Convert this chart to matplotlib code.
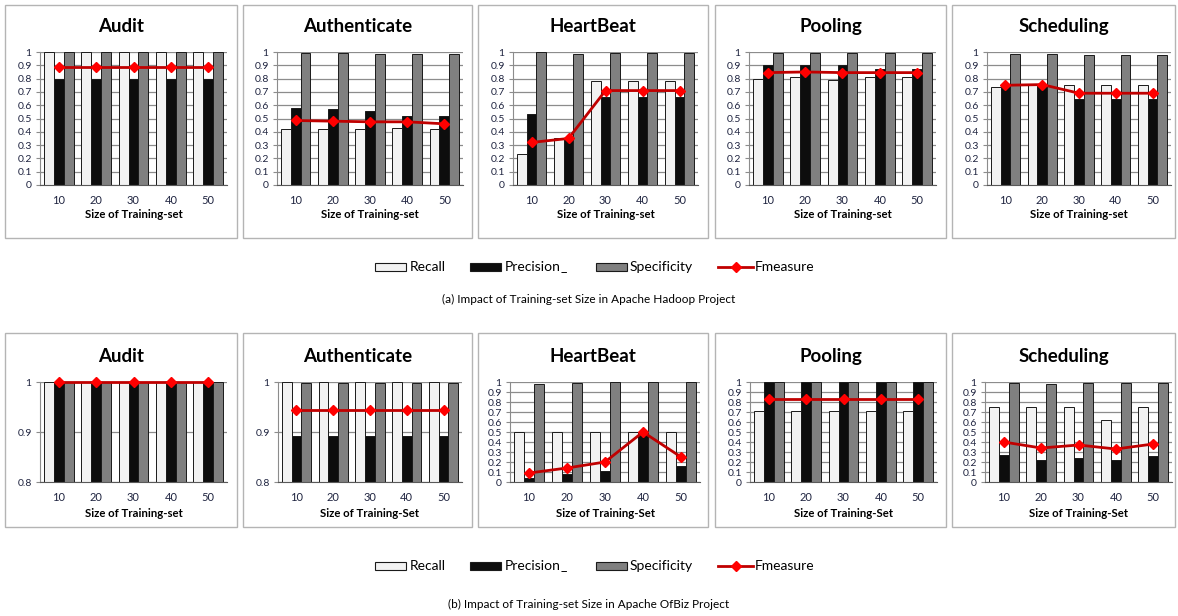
import matplotlib
matplotlib.use("Agg")
import matplotlib.pyplot as plt
from matplotlib.patches import Rectangle
from matplotlib.lines import Line2D
import numpy as np

plt.rcParams['font.family'] = ['Lato', 'DejaVu Sans']

sizes = [10, 20, 30, 40, 50]
modules = ['Audit', 'Authenticate', 'HeartBeat', 'Pooling', 'Scheduling']

# Apache Hadoop
hadoop_recall = [
    [1.0, 1.0, 1.0, 1.0, 1.0],
    [0.42, 0.42, 0.42, 0.43, 0.42],
    [0.23, 0.35, 0.78, 0.78, 0.78],
    [0.80, 0.81, 0.79, 0.81, 0.81],
    [0.74, 0.76, 0.75, 0.75, 0.75],
]
hadoop_precision = [
    [0.80, 0.80, 0.80, 0.80, 0.80],
    [0.58, 0.57, 0.555, 0.52, 0.52],
    [0.535, 0.35, 0.66, 0.66, 0.66],
    [0.90, 0.90, 0.905, 0.87, 0.875],
    [0.75, 0.75, 0.645, 0.645, 0.645],
]
hadoop_specificity = [
    [1.0, 1.0, 1.0, 1.0, 1.0],
    [0.99, 0.99, 0.985, 0.985, 0.985],
    [1.0, 0.985, 0.995, 0.995, 0.995],
    [0.995, 0.995, 0.995, 0.995, 0.995],
    [0.985, 0.985, 0.975, 0.975, 0.975],
]
hadoop_fmeasure = [
    [0.89, 0.89, 0.89, 0.89, 0.89],
    [0.485, 0.48, 0.475, 0.475, 0.46],
    [0.32, 0.35, 0.71, 0.71, 0.71],
    [0.845, 0.85, 0.845, 0.845, 0.845],
    [0.75, 0.755, 0.69, 0.69, 0.69],
]

# Apache OfBiz
ofbiz_recall = [
    [1.0, 1.0, 1.0, 1.0, 1.0],
    [1.0, 1.0, 1.0, 1.0, 1.0],
    [0.5, 0.5, 0.5, 0.5, 0.5],
    [0.71, 0.71, 0.71, 0.71, 0.71],
    [0.75, 0.75, 0.75, 0.625, 0.75],
]
ofbiz_precision = [
    [1.0, 1.0, 1.0, 1.0, 1.0],
    [0.893, 0.893, 0.893, 0.893, 0.893],
    [0.04, 0.08, 0.11, 0.5, 0.16],
    [1.0, 1.0, 1.0, 1.0, 1.0],
    [0.27, 0.22, 0.24, 0.225, 0.26],
]
ofbiz_specificity = [
    [1.0, 1.0, 1.0, 1.0, 1.0],
    [0.999, 0.999, 0.999, 0.999, 0.999],
    [0.98, 0.99, 1.0, 1.0, 1.0],
    [1.0, 1.0, 1.0, 1.0, 1.0],
    [0.99, 0.98, 0.99, 0.99, 0.99],
]
ofbiz_fmeasure = [
    [1.0, 1.0, 1.0, 1.0, 1.0],
    [0.944, 0.944, 0.944, 0.944, 0.944],
    [0.09, 0.14, 0.2, 0.5, 0.25],
    [0.83, 0.83, 0.83, 0.83, 0.83],
    [0.40, 0.34, 0.37, 0.33, 0.38],
]

hadoop_xlabels = ['Size of Training-set'] * 5
ofbiz_xlabels = ['Size of Training-set', 'Size of Training-Set', 'Size of Training-Set',
                 'Size of Training-Set', 'Size of Training-Set']
ofbiz_ylims = [(0.8, 1.0), (0.8, 1.0), (0, 1), (0, 1), (0, 1)]

legend_labels = ['Recall', 'Precision_', 'Specificity', 'Fmeasure']
captions = ['(a) Impact of Training-set Size in Apache Hadoop Project',
            '(b) Impact of Training-set Size in Apache OfBiz Project']

W, H = 1178, 616
fig = plt.figure(figsize=(W / 100, H / 100), dpi=100)
renderer = fig.canvas.get_renderer()

C_RECALL = '#f2f2f2'
C_PREC = '#0d0d0d'
C_SPEC = '#808080'
C_LINE = '#c00000'
C_MARK = '#ff0000'
C_TICK = '#1f2440'
C_EDGE = '#1a1a1a'


def fx(px):
    return px / W


def fy(py):
    return 1 - py / H


def px_axes(x0, x1, y0, y1):
    return fig.add_axes([fx(x0), fy(y1), (x1 - x0) / W, (y1 - y0) / H])


def frame(x0, x1, y0, y1):
    fig.patches.append(Rectangle((fx(x0), fy(y1)), (x1 - x0) / W, (y1 - y0) / H,
                                 transform=fig.transFigure, fill=False,
                                 edgecolor='#b4b4b4', lw=1.0))


def panel(ax, rec, prec, spec, fm, ylim, yticks):
    x = np.arange(len(sizes))
    w = 0.265
    kw = dict(edgecolor=C_EDGE, linewidth=0.7, zorder=2)
    ax.bar(x - w, rec, w, color=C_RECALL, **kw)
    ax.bar(x, prec, w, color=C_PREC, **kw)
    ax.bar(x + w, spec, w, color=C_SPEC, **kw)
    ax.plot(x, fm, color=C_LINE, lw=2, marker='D', ms=5,
            markerfacecolor=C_MARK, markeredgecolor=C_MARK, zorder=4, clip_on=False)
    ax.set_xlim(-0.5, len(sizes) - 0.5)
    ax.set_ylim(*ylim)
    ax.set_yticks(yticks)
    ax.set_yticklabels([('%g' % t) for t in yticks])
    ax.set_xticks(x)
    ax.set_xticklabels([str(s) for s in sizes])
    ax.grid(axis='y', color='#8c8c8c', lw=0.9, zorder=0)
    ax.set_axisbelow(True)
    for s in ['top', 'right']:
        ax.spines[s].set_visible(False)
    ax.spines['left'].set_color('#8c8c8c')
    ax.spines['bottom'].set_color('#595959')
    ax.tick_params(axis='y', length=3, color='#8c8c8c', labelsize=7.5, labelcolor=C_TICK, pad=3)
    ax.tick_params(axis='x', length=0, labelsize=8, labelcolor=C_TICK, pad=7)


def baseline_text(x, y, s, **kw):
    # trailing underscores drop the whole string in Lato, so draw them as a separate piece
    core = s.rstrip('_')
    t = fig.text(x, y, core, ha='left', va='baseline', **kw)
    if core != s:
        bb = t.get_window_extent(renderer)
        fig.text(bb.x1 / W, y, s[len(core):], ha='left', va='baseline', **kw)


top_plot = [(40, 227), (277, 463), (513, 698), (749, 936), (987, 1171)]
bot_plot = [(40, 227), (278, 462), (510, 700), (750, 937), (985, 1172)]
boxes = [(5, 237), (243, 472), (478, 708), (715, 946), (952, 1175)]
tenths = np.round(np.arange(0, 1.01, 0.1), 1)

for i, name in enumerate(modules):
    bx0, bx1 = boxes[i]
    frame(bx0, bx1, 5, 238)
    frame(bx0, bx1, 333, 527)
    cx_box = fx((bx0 + bx1) / 2)

    x0, x1 = top_plot[i]
    ax = px_axes(x0, x1, 52, 185)
    panel(ax, hadoop_recall[i], hadoop_precision[i], hadoop_specificity[i],
          hadoop_fmeasure[i], (0, 1), tenths)
    fig.text(cx_box, fy(32), name, ha='center', va='baseline', fontsize=13.5, fontweight='bold')
    fig.text(fx((x0 + x1) / 2), fy(218), hadoop_xlabels[i], ha='center', va='baseline',
             fontsize=8.2, fontweight='bold')

    x0, x1 = bot_plot[i]
    ax = px_axes(x0, x1, 382, 482)
    lo, hi = ofbiz_ylims[i]
    yt = [0.8, 0.9, 1.0] if lo == 0.8 else tenths
    panel(ax, ofbiz_recall[i], ofbiz_precision[i], ofbiz_specificity[i],
          ofbiz_fmeasure[i], (lo, hi), yt)
    fig.text(cx_box, fy(362), name, ha='center', va='baseline', fontsize=13.5, fontweight='bold')
    fig.text(fx((x0 + x1) / 2), fy(517), ofbiz_xlabels[i], ha='center', va='baseline',
             fontsize=8.2, fontweight='bold')

# legend keys laid out by hand so every label shares one baseline
patch_fills = [C_RECALL, C_PREC, C_SPEC]
patch_x = [375, 470, 596]
text_x = [410, 505, 630, 755]
for ly, cap_y, caption in [(267, 303, captions[0]), (566, 608, captions[1])]:
    for px, fc in zip(patch_x, patch_fills):
        fig.patches.append(Rectangle((fx(px), fy(ly + 4)), 31 / W, 8 / H,
                                     transform=fig.transFigure, facecolor=fc,
                                     edgecolor=C_EDGE, lw=0.8))
    fig.lines.append(Line2D([fx(718), fx(753)], [fy(ly), fy(ly)], transform=fig.transFigure,
                            color=C_LINE, lw=2))
    fig.lines.append(Line2D([fx(735.5)], [fy(ly)], transform=fig.transFigure, marker='D',
                            ms=5, color=C_MARK, lw=0))
    for tx, lab in zip(text_x, legend_labels):
        baseline_text(fx(tx), fy(ly + 4), lab, fontsize=10)
    fig.text(0.5, fy(cap_y), caption, ha='center', va='baseline', fontsize=8.5)

fig.savefig('out.png', dpi=100, facecolor='white')
